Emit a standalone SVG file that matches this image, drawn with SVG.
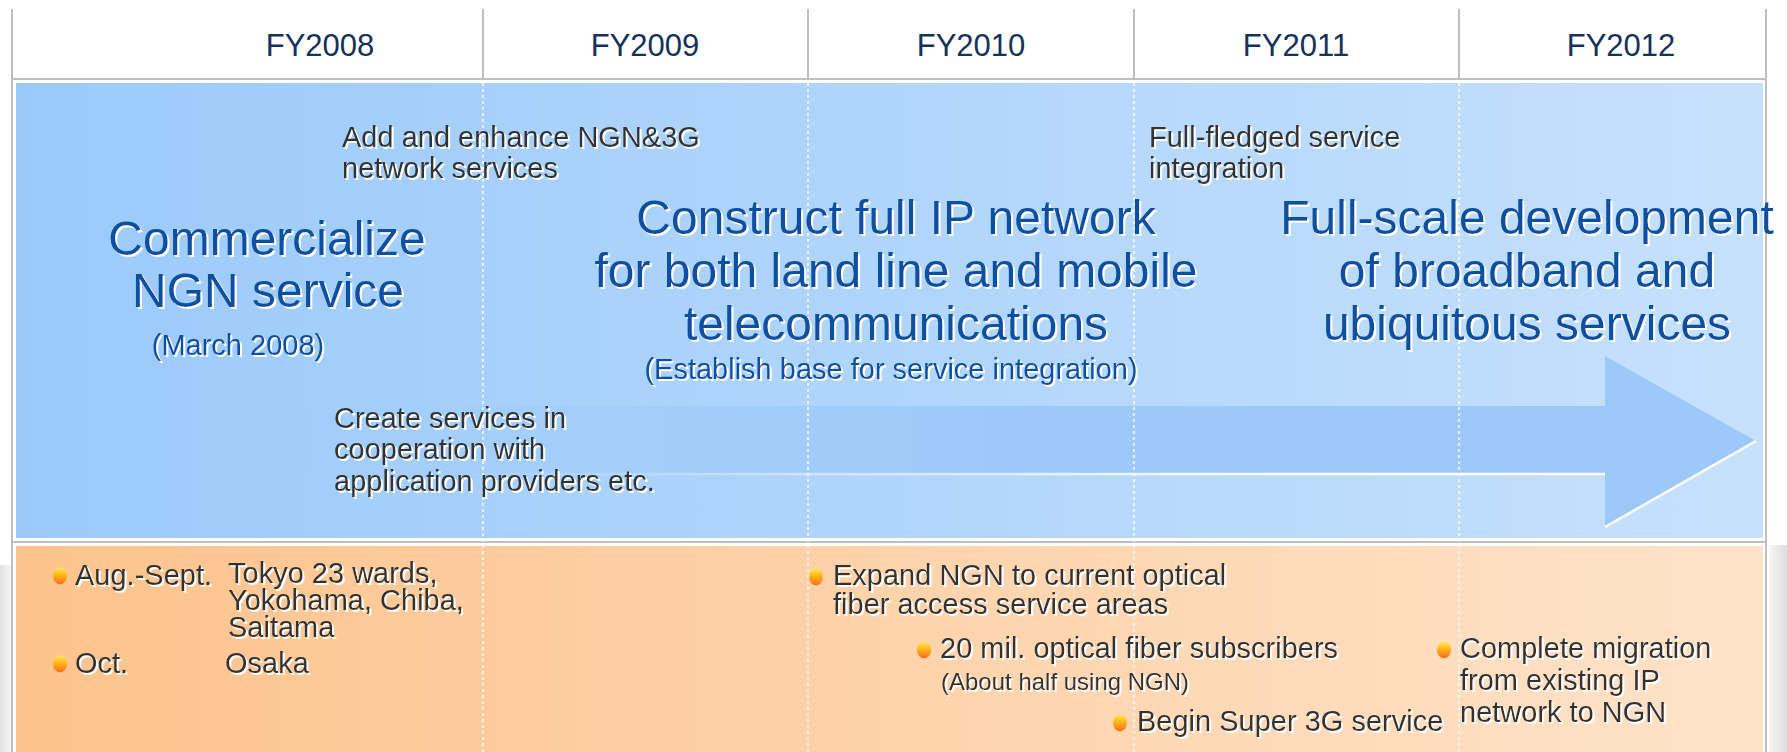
<svg xmlns="http://www.w3.org/2000/svg" width="1787" height="752" viewBox="0 0 1787 752">
<defs>
  <linearGradient id="gBlue" x1="0" y1="0" x2="1" y2="0">
    <stop offset="0" stop-color="#9bcafa"/>
    <stop offset="1" stop-color="#c6e1fc"/>
  </linearGradient>
  <linearGradient id="gOrange" x1="0" y1="0" x2="1" y2="0">
    <stop offset="0" stop-color="#fcc38c"/>
    <stop offset="1" stop-color="#fee3c9"/>
  </linearGradient>
  <linearGradient id="gArrow" gradientUnits="userSpaceOnUse" x1="300" y1="0" x2="1000" y2="0">
    <stop offset="0" stop-color="#9dcaf9" stop-opacity="0"/>
    <stop offset="1" stop-color="#9cc9f9"/>
  </linearGradient>
  <linearGradient id="gHi" gradientUnits="userSpaceOnUse" x1="450" y1="0" x2="1300" y2="0">
    <stop offset="0" stop-color="#ffffff" stop-opacity="0"/>
    <stop offset="1" stop-color="#ffffff"/>
  </linearGradient>
  <linearGradient id="gShR" x1="0" y1="0" x2="1" y2="0">
    <stop offset="0" stop-color="#f6f6f6"/>
    <stop offset="1" stop-color="#dedede"/>
  </linearGradient>
  <linearGradient id="gShL" x1="0" y1="0" x2="1" y2="0">
    <stop offset="0" stop-color="#e2e2e2"/>
    <stop offset="1" stop-color="#f7f7f7"/>
  </linearGradient>
  <linearGradient id="gBullet" x1="0" y1="0" x2="0" y2="1">
    <stop offset="0" stop-color="#ffe866"/>
    <stop offset="0.35" stop-color="#ffc21a"/>
    <stop offset="1" stop-color="#fb6a1c"/>
  </linearGradient>
  <filter id="sh" x="-5%" y="-20%" width="110%" height="150%">
    <feOffset in="SourceAlpha" dx="1.5" dy="1.5" result="o"/>
    <feFlood flood-color="#ffffff"/>
    <feComposite in2="o" operator="in" result="s"/>
    <feMerge><feMergeNode in="s"/><feMergeNode in="SourceGraphic"/></feMerge>
  </filter>
  <style>
    text { font-family: "Liberation Sans", Arial, sans-serif; }
    .fy { font-size: 31px; fill: #14325c; text-anchor: middle; }
    .big { font-size: 48px; fill: #0b4fa1; text-anchor: middle; filter: url(#sh); }
    .sub { font-size: 29px; fill: #0b4fa1; text-anchor: middle; filter: url(#sh); }
    .med { font-size: 29px; fill: #333333; filter: url(#sh); }
    .sm { font-size: 24px; fill: #333333; filter: url(#sh); }
    .grid { stroke: #bfbfbf; stroke-width: 2; fill: none; }
    .dot { stroke: #ffffff; stroke-width: 1.5; stroke-dasharray: 3 3; fill: none; }
    .bul { fill: url(#gBullet); }
  </style>
</defs>

<rect width="1787" height="752" fill="#ffffff"/>
<rect x="1769" y="545" width="18" height="207" fill="url(#gShR)"/>
<rect x="0" y="565" width="11" height="187" fill="url(#gShL)"/>

<g id="panels">
  <rect x="16" y="83" width="1747" height="455" fill="url(#gBlue)"/>
  <rect x="16" y="546" width="1747" height="206" fill="url(#gOrange)"/>
</g>

<g id="grid">
  <line class="grid" x1="12" y1="9" x2="12" y2="752"/>
  <line class="grid" x1="1766" y1="9" x2="1766" y2="752"/>
  <line class="grid" x1="12" y1="79" x2="1766" y2="79"/>
  <line class="grid" x1="12" y1="542" x2="1766" y2="542"/>
  <line class="grid" x1="483" y1="9" x2="483" y2="79"/>
  <line class="grid" x1="808" y1="9" x2="808" y2="79"/>
  <line class="grid" x1="1134" y1="9" x2="1134" y2="79"/>
  <line class="grid" x1="1459" y1="9" x2="1459" y2="79"/>
</g>

<g id="connectors">
  <path d="M300,406 H1605 V356 L1756,441 L1605,527 V474 H300 Z" fill="url(#gArrow)"/>
  <path d="M300,474 H1605" stroke="url(#gHi)" stroke-width="2.5" fill="none"/>
  <path d="M1605,527 L1756,441" stroke="#ffffff" stroke-width="2.5" fill="none"/>
</g>

<g id="dividers">
  <line class="dot" x1="483" y1="83" x2="483" y2="752"/>
  <line class="dot" x1="808" y1="83" x2="808" y2="752"/>
  <line class="dot" x1="1134" y1="83" x2="1134" y2="752"/>
  <line class="dot" x1="1459" y1="83" x2="1459" y2="752"/>
</g>

<g id="header">
  <text class="fy" x="320" y="56">FY2008</text>
  <text class="fy" x="645" y="56">FY2009</text>
  <text class="fy" x="971" y="56">FY2010</text>
  <text class="fy" x="1296" y="56">FY2011</text>
  <text class="fy" x="1621" y="56">FY2012</text>
</g>

<g id="add-enhance">
  <text class="med" x="342" y="147">Add and enhance NGN&amp;3G</text>
  <text class="med" x="342" y="178">network services</text>
</g>

<g id="full-fledged">
  <text class="med" x="1149" y="147">Full-fledged service</text>
  <text class="med" x="1149" y="178">integration</text>
</g>

<g id="commercialize">
  <text class="big" x="267" y="255">Commercialize</text>
  <text class="big" x="268" y="307">NGN service</text>
  <text class="sub" x="238" y="355">(March 2008)</text>
</g>

<g id="construct">
  <text class="big" x="896" y="234">Construct full IP network</text>
  <text class="big" x="896" y="287">for both land line and mobile</text>
  <text class="big" x="896" y="340">telecommunications</text>
  <text class="sub" x="891" y="379">(Establish base for service integration)</text>
</g>

<g id="full-scale">
  <text class="big" x="1527" y="234">Full-scale development</text>
  <text class="big" x="1527" y="287">of broadband and</text>
  <text class="big" x="1527" y="340">ubiquitous services</text>
</g>

<g id="create-services">
  <text class="med" x="334" y="428">Create services in</text>
  <text class="med" x="334" y="459">cooperation with</text>
  <text class="med" x="334" y="491">application providers etc.</text>
</g>

<g id="rollout-2008">
  <ellipse class="bul" cx="60" cy="576" rx="7" ry="8.5"/>
  <text class="med" x="75" y="585">Aug.-Sept.</text>
  <text class="med" x="228" y="583">Tokyo 23 wards,</text>
  <text class="med" x="228" y="610">Yokohama, Chiba,</text>
  <text class="med" x="228" y="637">Saitama</text>
  <ellipse class="bul" cx="60" cy="664" rx="7" ry="8.5"/>
  <text class="med" x="75" y="673">Oct.</text>
  <text class="med" x="225" y="673">Osaka</text>
</g>

<g id="expand-ngn">
  <ellipse class="bul" cx="816" cy="577" rx="7" ry="8.5"/>
  <text class="med" x="833" y="585">Expand NGN to current optical</text>
  <text class="med" x="833" y="614">fiber access service areas</text>
</g>

<g id="subscribers">
  <ellipse class="bul" cx="924" cy="650" rx="7" ry="8.5"/>
  <text class="med" x="940" y="658">20 mil. optical fiber subscribers</text>
  <text class="sm" x="941" y="690">(About half using NGN)</text>
</g>

<g id="super3g">
  <ellipse class="bul" cx="1120" cy="723" rx="7" ry="8.5"/>
  <text class="med" x="1137" y="731">Begin Super 3G service</text>
</g>

<g id="migration">
  <ellipse class="bul" cx="1444" cy="650" rx="7" ry="8.5"/>
  <text class="med" x="1460" y="658">Complete migration</text>
  <text class="med" x="1460" y="690">from existing IP</text>
  <text class="med" x="1460" y="722">network to NGN</text>
</g>
</svg>
